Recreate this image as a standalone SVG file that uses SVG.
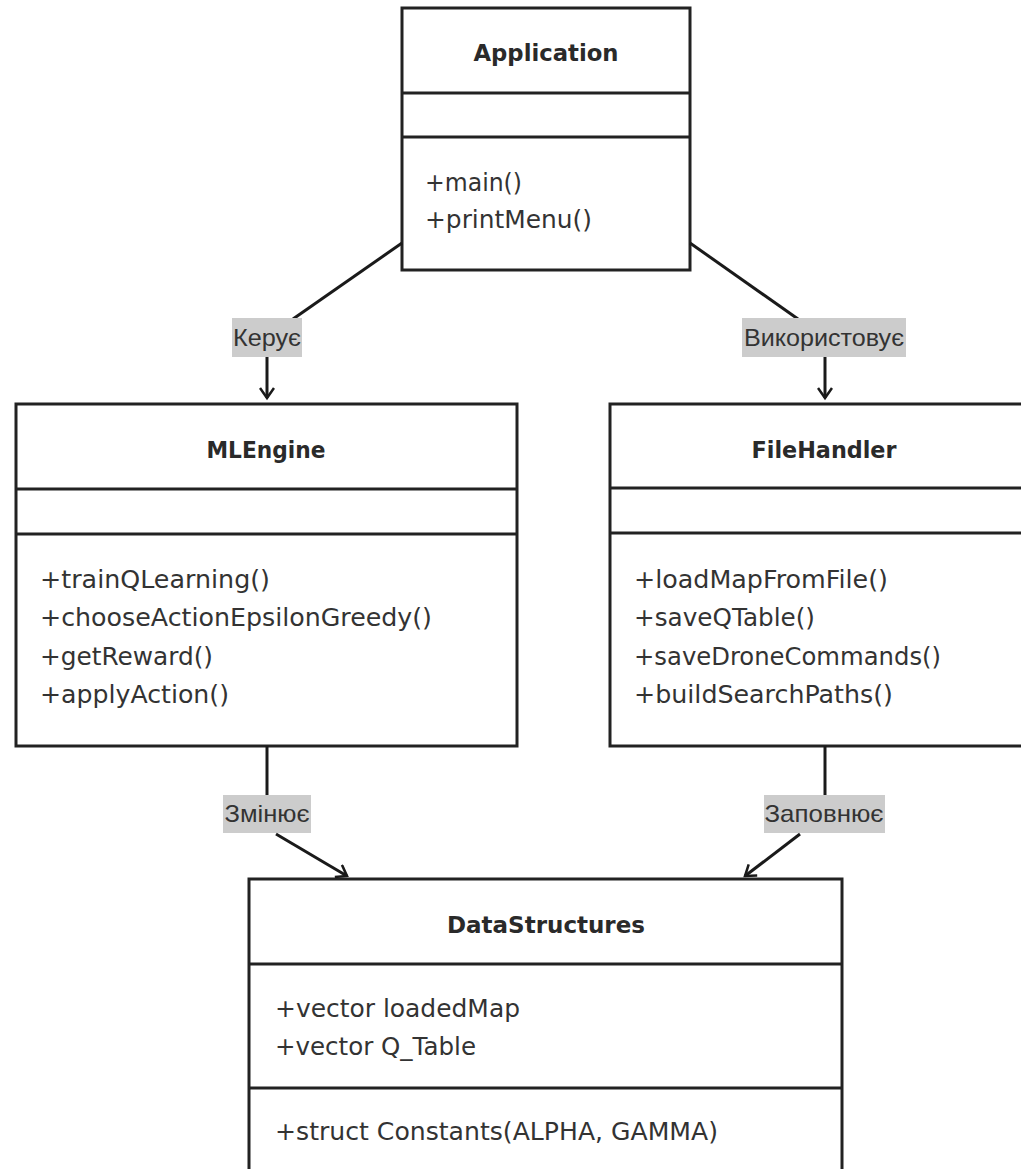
<svg xmlns="http://www.w3.org/2000/svg" width="1021" height="1169" viewBox="0 0 1021 1169">
  <style>
    .box { fill: #ffffff; stroke: #222222; stroke-width: 3; }
    .div { stroke: #222222; stroke-width: 3; }
    .title { font-family: "DejaVu Sans", "Noto Sans", sans-serif; font-weight: 700; font-size: 23px; fill: #2a2a2a; text-anchor: middle; }
    .member { font-family: "DejaVu Sans", "Noto Sans", sans-serif; font-size: 24px; fill: #333333; }
    .edge { fill: none; stroke: #1a1a1a; stroke-width: 3; }
    .lbl-bg { fill: #cccccc; }
    .lbl { font-family: "Liberation Sans", Arial, sans-serif; font-size: 24px; fill: #333333; text-anchor: middle; }
  </style>
  <defs>
    <marker id="arrow" markerWidth="16" markerHeight="16" refX="12" refY="8" orient="auto" markerUnits="userSpaceOnUse">
      <polyline points="2,1 12,8 2,15" fill="none" stroke="#1a1a1a" stroke-width="2.5"/>
    </marker>
  </defs>
  <rect width="1021" height="1169" fill="#ffffff"/>

  <!-- Application -->
  <g id="application">
    <rect class="box" x="402" y="8" width="288" height="262"/>
    <line class="div" x1="402" y1="93" x2="690" y2="93"/>
    <line class="div" x1="402" y1="137" x2="690" y2="137"/>
    <text class="title" x="546" y="61" textLength="145" lengthAdjust="spacingAndGlyphs">Application</text>
    <text class="member" x="425" y="191" textLength="97" lengthAdjust="spacingAndGlyphs">+main()</text>
    <text class="member" x="425" y="228" textLength="167" lengthAdjust="spacingAndGlyphs">+printMenu()</text>
  </g>

  <!-- MLEngine -->
  <g id="mlengine">
    <rect class="box" x="16" y="404" width="501" height="342"/>
    <line class="div" x1="16" y1="489" x2="517" y2="489"/>
    <line class="div" x1="16" y1="534" x2="517" y2="534"/>
    <text class="title" x="266" y="458" textLength="119" lengthAdjust="spacingAndGlyphs">MLEngine</text>
    <text class="member" x="40" y="588" textLength="230" lengthAdjust="spacingAndGlyphs">+trainQLearning()</text>
    <text class="member" x="40" y="626" textLength="392" lengthAdjust="spacingAndGlyphs">+chooseActionEpsilonGreedy()</text>
    <text class="member" x="40" y="665" textLength="173" lengthAdjust="spacingAndGlyphs">+getReward()</text>
    <text class="member" x="40" y="703" textLength="189" lengthAdjust="spacingAndGlyphs">+applyAction()</text>
  </g>

  <!-- FileHandler (runs past the right edge) -->
  <g id="filehandler">
    <rect class="box" x="610" y="404" width="426" height="342"/>
    <line class="div" x1="610" y1="488" x2="1036" y2="488"/>
    <line class="div" x1="610" y1="533" x2="1036" y2="533"/>
    <text class="title" x="824" y="458" textLength="145" lengthAdjust="spacingAndGlyphs">FileHandler</text>
    <text class="member" x="634" y="588" textLength="254" lengthAdjust="spacingAndGlyphs">+loadMapFromFile()</text>
    <text class="member" x="634" y="626" textLength="181" lengthAdjust="spacingAndGlyphs">+saveQTable()</text>
    <text class="member" x="634" y="665" textLength="307" lengthAdjust="spacingAndGlyphs">+saveDroneCommands()</text>
    <text class="member" x="634" y="703" textLength="259" lengthAdjust="spacingAndGlyphs">+buildSearchPaths()</text>
  </g>

  <!-- DataStructures (runs past the bottom edge) -->
  <g id="datastructures">
    <rect class="box" x="249" y="879" width="593" height="310"/>
    <line class="div" x1="249" y1="964" x2="842" y2="964"/>
    <line class="div" x1="249" y1="1088" x2="842" y2="1088"/>
    <text class="title" x="546" y="933" textLength="198" lengthAdjust="spacingAndGlyphs">DataStructures</text>
    <text class="member" x="275" y="1017" textLength="245" lengthAdjust="spacingAndGlyphs">+vector loadedMap</text>
    <text class="member" x="275" y="1055" textLength="201" lengthAdjust="spacingAndGlyphs">+vector Q_Table</text>
    <text class="member" x="275" y="1140" textLength="443" lengthAdjust="spacingAndGlyphs">+struct Constants(ALPHA, GAMMA)</text>
  </g>

  <!-- Connectors -->
  <g id="connectors">
    <!-- Application -> MLEngine -->
    <line class="edge" x1="402" y1="243" x2="293" y2="319"/>
    <rect class="lbl-bg" x="232" y="318" width="70" height="39"/>
    <text class="lbl" x="267" y="346" textLength="68" lengthAdjust="spacingAndGlyphs">Керує</text>
    <line class="edge" x1="267" y1="357" x2="267" y2="398" marker-end="url(#arrow)"/>

    <!-- Application -> FileHandler -->
    <line class="edge" x1="690" y1="243" x2="798" y2="319"/>
    <rect class="lbl-bg" x="742" y="318" width="164" height="39"/>
    <text class="lbl" x="824" y="346" textLength="160" lengthAdjust="spacingAndGlyphs">Використовує</text>
    <line class="edge" x1="825" y1="357" x2="825" y2="398" marker-end="url(#arrow)"/>

    <!-- MLEngine -> DataStructures -->
    <line class="edge" x1="267" y1="746" x2="267" y2="795"/>
    <rect class="lbl-bg" x="223" y="795" width="88" height="38"/>
    <text class="lbl" x="267" y="822" textLength="85" lengthAdjust="spacingAndGlyphs">Змінює</text>
    <line class="edge" x1="276" y1="834" x2="347" y2="876" marker-end="url(#arrow)"/>

    <!-- FileHandler -> DataStructures -->
    <line class="edge" x1="825" y1="746" x2="825" y2="795"/>
    <rect class="lbl-bg" x="764" y="795" width="121" height="38"/>
    <text class="lbl" x="824" y="822" textLength="119" lengthAdjust="spacingAndGlyphs">Заповнює</text>
    <line class="edge" x1="800" y1="834" x2="745" y2="876" marker-end="url(#arrow)"/>
  </g>
</svg>
